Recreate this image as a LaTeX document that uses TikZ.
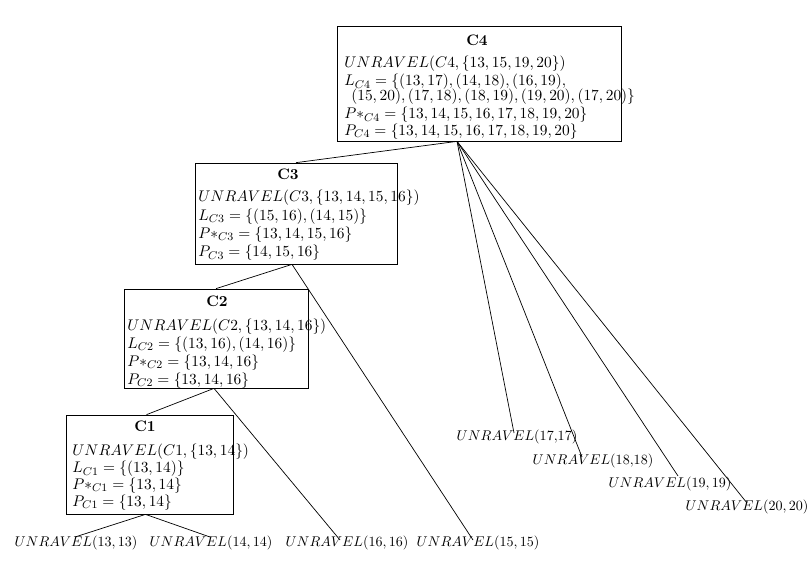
\documentclass[tikz,border=0pt]{standalone}
\usetikzlibrary{calc,fit}
\begin{document}
\begin{tikzpicture}[x=0.71pt,y=-0.71pt,
  frame/.style={draw, line width=0.5pt, inner sep=0pt},
  title/.style={font=\fontsize{10.8}{12.3}\selectfont\bfseries, inner sep=0pt},
  body/.style={anchor=north west, align=left, inner sep=0pt,
    font=\fontsize{10.8}{#1}\selectfont},
  leaf/.style={inner sep=1pt, font=\fontsize{9.7}{11.6}\selectfont},
  edge/.style={line width=0.5pt}]
\useasboundingbox (0,0) rectangle (808,568);
% boxes
\node[frame, fit={(337,26)(621,141)}] (c4) {};
\node[frame, fit={(195,163)(397,264)}] (c3) {};
\node[frame, fit={(124,289)(308,388)}] (c2) {};
\node[frame, fit={(66,415)(233,514)}] (c1) {};
% titles
\node[title] (t4) at (477,40) {C4};
\node[title] (t3) at (288,174) {C3};
\node[title] (t2) at (217,301) {C2};
\node[title] (t1) at (145,426) {C1};
% bodies
\node[body=12.8pt] (b4) at (344,56) {$UNRAVEL(C4,\{13,15,19,20\})$\\
  $L_{C4}=\{(13,17),(14,18),(16,19),$\\[-2.1pt]
  \hspace{5pt}$(15,20),(17,18),(18,19),(19,20),(17,20)\}$\\
  $P{*}_{C4}=\{13,14,15,16,17,18,19,20\}$\\[-1.4pt]
  $P_{C4}=\{13,14,15,16,17,18,19,20\}$};
\node[body=13pt] (b3) at (198,190) {$UNRAVEL(C3,\{13,14,15,16\})$\\
  $L_{C3}=\{(15,16),(14,15)\}$\\
  $P{*}_{C3}=\{13,14,15,16\}$\\
  $P_{C3}=\{14,15,16\}$};
\node[body=12.6pt] (b2) at (127,319) {$UNRAVEL(C2,\{13,14,16\})$\\
  $L_{C2}=\{(13,16),(14,16)\}$\\
  $P{*}_{C2}=\{13,14,16\}$\\
  $P_{C2}=\{13,14,16\}$};
\node[body=11.9pt] (b1) at (72,444) {$UNRAVEL(C1,\{13,14\})$\\
  $L_{C1}=\{(13,14)\}$\\
  $P{*}_{C1}=\{13,14\}$\\
  $P_{C1}=\{13,14\}$};
% leaves
\node[leaf] (u13) at (76,543) {$UNRAVEL(13,13)$};
\node[leaf] (u14) at (211,543) {$UNRAVEL(14,14)$};
\node[leaf] (u16) at (347,543) {$UNRAVEL(16,16)$};
\node[leaf] (u15) at (478,543) {$UNRAVEL(15,15)$};
\node[leaf] (u17) at (517,437) {$UNRAVEL(17{,}17)$};
\node[leaf] (u18) at (593,461) {$UNRAVEL(18{,}18)$};
\node[leaf] (u19) at (670,484) {$UNRAVEL(19,19)$};
\node[leaf] (u20) at (747,507) {$UNRAVEL(20,20)$};
% anchor points
\coordinate (c4b) at ($(c4.south)+(-22,0)$);
\coordinate (c3b) at ($(c3.south)+(-4,0)$);
\coordinate (c2b) at ($(c2.south)+(-2,0)$);
\coordinate (c1b) at ($(c1.south)+(-4,0)$);
% connectors
\draw[edge] (c4b) -- (c3.north);
\draw[edge] (c4b) -- ($(u17.center)+(-3,-4)$);
\draw[edge] (c4b) -- ($(u18.center)+(-11,-4)$);
\draw[edge] (c4b) -- ($(u19.center)+(8,-8)$);
\draw[edge] (c4b) -- ($(u20.center)+(0,-4)$);
\draw[edge] (c3b) -- (c2.north);
\draw[edge] (c3b) -- ($(u15.center)+(-5,-3)$);
\draw[edge] (c2b) -- ($(c1.north)+(-3,0)$);
\draw[edge] (c2b) -- ($(u16.center)+(-7,-3)$);
\draw[edge] (c1b) -- ($(u13.center)+(-1,-6)$);
\draw[edge] (c1b) -- ($(u14.center)+(-1,-6)$);
\end{tikzpicture}
\end{document}
